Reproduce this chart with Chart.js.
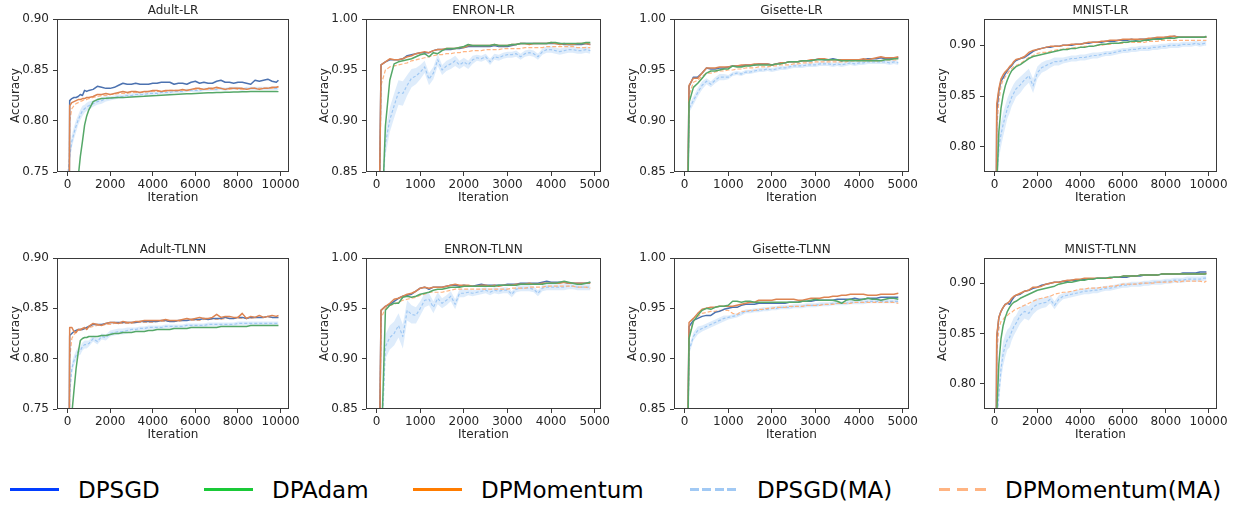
<!DOCTYPE html>
<html>
<head>
<meta charset="utf-8">
<script src="https://cdn.jsdelivr.net/npm/chart.js@4.4.1/dist/chart.umd.min.js"></script>
<style>
  html, body { margin:0; padding:0; background:#fff; }
  #wrap { position:relative; width:1237px; height:508px; overflow:hidden; background:#fff; }
  canvas { position:absolute; }
  .lg-line { position:absolute; height:3px; }
  .lg-text { position:absolute; font-family:"DejaVu Sans", sans-serif; font-size:23px; line-height:28px; color:#000; white-space:nowrap; }
</style>
</head>
<body>
<div id="wrap"></div>
<script>
// ---------------- DATA ----------------
const ITER_10K = [0,100,200,300,400,500,600,700,800,900,
1000,1200,1400,1600,1800,2000,2200,2400,2600,2800,
3000,3200,3400,3600,3800,4000,4200,4400,4600,4800,
5000,5200,5400,5600,5800,6000,6200,6400,6600,6800,
7000,7200,7400,7600,7800,8000,8200,8400,8600,8800,
9000,9200,9400,9600,9800,9900];
const ITER_5K = [0,100,200,300,400,500,600,700,800,900,
1000,1100,1200,1300,1400,1500,1600,1700,1800,1900,
2000,2100,2200,2300,2400,2500,2600,2700,2800,2900,
3000,3100,3200,3300,3400,3500,3600,3700,3800,3900,
4000,4100,4200,4300,4400,4500,4600,4700,4800,4900];

const X_TICKS_10K = [0,2000,4000,6000,8000,10000];
const X_TICKS_5K = [0,1000,2000,3000,4000,5000];
const Y_TICKS_ADULT = [0.75,0.80,0.85,0.90];
const Y_TICKS_HIGH = [0.85,0.90,0.95,1.00];
const Y_TICKS_MNIST = [0.80,0.85,0.90];

const SERIES_NAMES = ['DPSGD','DPAdam','DPMomentum','DPSGD(MA)','DPMomentum(MA)'];
const PANEL_TITLES = ['Adult-LR','ENRON-LR','Gisette-LR','MNIST-LR','Adult-TLNN','ENRON-TLNN','Gisette-TLNN','MNIST-TLNN'];

// Adult-LR
const adultLR_sgd = [0.30,0.820,0.822,0.823,0.823,0.824,0.826,0.825,0.830,0.829,
0.830,0.831,0.834,0.833,0.832,0.832,0.833,0.835,0.837,0.836,
0.836,0.837,0.836,0.836,0.836,0.837,0.837,0.838,0.838,0.838,
0.836,0.837,0.837,0.836,0.838,0.839,0.837,0.838,0.837,0.837,
0.839,0.840,0.838,0.838,0.837,0.838,0.838,0.837,0.836,0.840,
0.839,0.840,0.841,0.839,0.838,0.840];
const adultLR_adam = [0.30,0.40,0.50,0.58,0.66,0.745,0.765,0.780,0.796,0.805,
0.811,0.819,0.821,0.822,0.8222,0.8225,0.8228,0.823,0.823,0.8232,
0.8235,0.8238,0.824,0.8242,0.8245,0.8248,0.825,0.8253,0.8256,0.8258,
0.826,0.8262,0.8264,0.8266,0.8268,0.827,0.8272,0.8274,0.8276,0.8278,
0.828,0.828,0.8282,0.8283,0.8284,0.8285,0.8286,0.8287,0.8288,0.8288,
0.8289,0.829,0.829,0.8289,0.829,0.8288];
const adultLR_mom = [0.30,0.815,0.818,0.819,0.820,0.821,0.821,0.822,0.822,0.823,
0.823,0.824,0.826,0.826,0.827,0.826,0.827,0.828,0.829,0.828,
0.829,0.829,0.828,0.829,0.829,0.830,0.830,0.829,0.830,0.830,
0.830,0.830,0.831,0.830,0.831,0.832,0.832,0.831,0.832,0.832,
0.833,0.832,0.831,0.832,0.832,0.832,0.832,0.831,0.832,0.832,
0.831,0.832,0.832,0.833,0.833,0.834];
const adultLR_sgdMA = [0.745,0.765,0.780,0.788,0.795,0.801,0.806,0.810,0.812,0.814,
0.815,0.817,0.819,0.820,0.822,0.822,0.823,0.824,0.824,0.825,
0.825,0.826,0.826,0.826,0.827,0.827,0.827,0.828,0.828,0.828,
0.829,0.829,0.829,0.830,0.830,0.830,0.830,0.831,0.831,0.831,
0.831,0.832,0.831,0.832,0.832,0.832,0.831,0.832,0.832,0.832,
0.832,0.832,0.832,0.832,0.832,0.832];
const adultLR_momMA = [0.50,0.800,0.812,0.815,0.817,0.818,0.819,0.820,0.821,0.821,
0.822,0.823,0.824,0.825,0.825,0.826,0.826,0.827,0.827,0.827,
0.828,0.828,0.828,0.828,0.829,0.829,0.829,0.829,0.829,0.830,
0.830,0.830,0.830,0.830,0.831,0.831,0.831,0.831,0.831,0.831,
0.832,0.832,0.831,0.831,0.832,0.831,0.831,0.831,0.832,0.832,
0.832,0.832,0.832,0.832,0.833,0.833];
const adultLR_band = [0.000,0.006,0.006,0.006,0.006,0.005,0.005,0.005,0.004,0.004,
0.004,0.003,0.003,0.003,0.003,0.002,0.002,0.002,0.002,0.002,
0.002,0.002,0.002,0.002,0.002,0.002,0.0015,0.0015,0.0015,0.0015,
0.0015,0.0015,0.0015,0.0015,0.0015,0.0015,0.0015,0.0015,0.0015,0.0015,
0.0015,0.0015,0.0015,0.0015,0.0015,0.0015,0.0015,0.0015,0.0015,0.0015,
0.0015,0.0015,0.0015,0.0015,0.0015,0.0015];

// ENRON-LR
const enronLR_sgd = [0.60,0.955,0.958,0.960,0.960,0.960,0.961,0.964,0.965,0.966,
0.967,0.967,0.967,0.969,0.970,0.970,0.970,0.970,0.971,0.971,
0.972,0.973,0.973,0.973,0.973,0.973,0.973,0.974,0.973,0.973,
0.973,0.974,0.975,0.976,0.976,0.976,0.976,0.976,0.976,0.976,
0.976,0.976,0.976,0.975,0.975,0.975,0.975,0.975,0.976,0.975];
const enronLR_adam = [0.55,0.78,0.895,0.940,0.956,0.958,0.959,0.960,0.961,0.963,
0.965,0.966,0.963,0.967,0.966,0.969,0.971,0.971,0.971,0.972,
0.973,0.975,0.974,0.974,0.974,0.974,0.974,0.975,0.974,0.974,
0.974,0.975,0.975,0.976,0.976,0.976,0.976,0.976,0.976,0.976,
0.977,0.977,0.976,0.976,0.976,0.976,0.976,0.976,0.977,0.977];
const enronLR_mom = [0.60,0.955,0.958,0.961,0.960,0.960,0.961,0.963,0.964,0.966,
0.967,0.968,0.967,0.969,0.970,0.970,0.971,0.971,0.971,0.972,
0.972,0.974,0.974,0.974,0.974,0.974,0.974,0.975,0.974,0.974,
0.974,0.975,0.975,0.976,0.976,0.975,0.976,0.976,0.976,0.976,
0.977,0.976,0.975,0.976,0.975,0.975,0.976,0.976,0.976,0.975];
const enronLR_sgdMA = [0.60,0.80,0.878,0.901,0.915,0.928,0.927,0.935,0.942,0.944,
0.948,0.953,0.941,0.947,0.960,0.950,0.954,0.956,0.959,0.955,
0.958,0.955,0.960,0.962,0.961,0.963,0.958,0.963,0.962,0.964,
0.965,0.965,0.966,0.963,0.966,0.967,0.966,0.963,0.968,0.970,
0.970,0.969,0.968,0.969,0.970,0.970,0.969,0.969,0.970,0.969];
const enronLR_momMA = [0.60,0.935,0.950,0.953,0.954,0.955,0.956,0.957,0.959,0.960,
0.961,0.962,0.963,0.964,0.965,0.965,0.966,0.966,0.967,0.967,
0.968,0.968,0.969,0.969,0.969,0.970,0.970,0.970,0.970,0.971,
0.971,0.971,0.971,0.971,0.972,0.972,0.972,0.972,0.972,0.973,
0.973,0.973,0.973,0.973,0.973,0.973,0.972,0.972,0.972,0.972];
const enronLR_band = [0.000,0.010,0.012,0.012,0.012,0.012,0.012,0.010,0.009,0.008,
0.007,0.006,0.006,0.006,0.006,0.005,0.005,0.005,0.005,0.004,
0.004,0.004,0.004,0.003,0.003,0.003,0.003,0.003,0.003,0.003,
0.003,0.003,0.003,0.003,0.003,0.003,0.003,0.003,0.003,0.003,
0.003,0.003,0.003,0.003,0.003,0.003,0.003,0.003,0.003,0.003];

// Gisette-LR
const gisetteLR_sgd = [0.55,0.934,0.943,0.943,0.947,0.952,0.951,0.951,0.952,0.952,
0.953,0.954,0.954,0.954,0.955,0.955,0.955,0.956,0.956,0.956,
0.955,0.956,0.957,0.957,0.958,0.958,0.958,0.959,0.959,0.959,
0.960,0.961,0.960,0.960,0.961,0.960,0.959,0.960,0.960,0.960,
0.960,0.960,0.961,0.961,0.961,0.962,0.961,0.961,0.962,0.962];
const gisetteLR_adam = [0.55,0.918,0.933,0.937,0.942,0.947,0.949,0.949,0.950,0.951,
0.951,0.954,0.953,0.953,0.954,0.954,0.955,0.955,0.955,0.955,
0.955,0.956,0.956,0.957,0.958,0.958,0.958,0.959,0.959,0.959,
0.960,0.960,0.960,0.960,0.960,0.960,0.959,0.959,0.959,0.959,
0.959,0.959,0.959,0.959,0.959,0.959,0.960,0.960,0.961,0.961];
const gisetteLR_mom = [0.55,0.935,0.942,0.942,0.947,0.952,0.952,0.952,0.953,0.953,
0.953,0.954,0.954,0.955,0.955,0.955,0.956,0.956,0.956,0.956,
0.955,0.956,0.957,0.957,0.958,0.958,0.958,0.959,0.959,0.960,
0.960,0.961,0.961,0.960,0.960,0.960,0.960,0.960,0.960,0.960,
0.960,0.961,0.960,0.961,0.962,0.963,0.962,0.962,0.962,0.963];
const gisetteLR_sgdMA = [0.55,0.912,0.920,0.928,0.935,0.939,0.936,0.940,0.943,0.943,
0.943,0.946,0.947,0.946,0.948,0.948,0.949,0.950,0.950,0.951,
0.950,0.951,0.952,0.952,0.953,0.954,0.954,0.954,0.955,0.955,
0.955,0.956,0.956,0.956,0.955,0.956,0.955,0.956,0.957,0.956,
0.957,0.957,0.958,0.958,0.958,0.958,0.958,0.957,0.958,0.957];
const gisetteLR_momMA = [0.55,0.925,0.938,0.940,0.944,0.947,0.947,0.948,0.949,0.949,
0.950,0.950,0.951,0.951,0.952,0.952,0.952,0.953,0.953,0.953,
0.954,0.954,0.955,0.955,0.955,0.956,0.956,0.957,0.957,0.957,
0.958,0.958,0.958,0.958,0.958,0.958,0.958,0.958,0.959,0.959,
0.959,0.959,0.959,0.959,0.959,0.959,0.960,0.960,0.960,0.960];
const gisetteLR_band = [0.000,0.004,0.004,0.004,0.004,0.003,0.003,0.003,0.003,0.003,
0.002,0.002,0.002,0.002,0.002,0.002,0.002,0.002,0.002,0.002,
0.002,0.002,0.002,0.002,0.002,0.002,0.002,0.002,0.002,0.002,
0.002,0.002,0.002,0.002,0.002,0.002,0.002,0.002,0.002,0.002,
0.002,0.002,0.002,0.002,0.002,0.002,0.002,0.002,0.002,0.002];

// MNIST-LR
const mnistLR_sgd = [0.40,0.835,0.855,0.865,0.868,0.872,0.875,0.878,0.880,0.883,
0.885,0.887,0.888,0.891,0.894,0.896,0.897,0.898,0.898,0.899,
0.899,0.900,0.900,0.900,0.901,0.901,0.902,0.902,0.903,0.903,
0.903,0.904,0.904,0.904,0.905,0.905,0.905,0.906,0.905,0.906,
0.906,0.906,0.907,0.907,0.907,0.908,0.908,0.909,0.908,0.908,
0.908,0.908,0.908,0.908,0.908,0.908];
const mnistLR_adam = [0.40,0.760,0.815,0.838,0.851,0.860,0.866,0.871,0.875,0.877,
0.879,0.881,0.884,0.887,0.889,0.890,0.891,0.892,0.893,0.894,
0.895,0.896,0.896,0.897,0.897,0.898,0.898,0.899,0.899,0.900,
0.901,0.901,0.902,0.902,0.902,0.903,0.903,0.904,0.904,0.904,
0.905,0.905,0.906,0.906,0.906,0.907,0.907,0.907,0.908,0.908,
0.908,0.908,0.908,0.908,0.908,0.909];
const mnistLR_mom = [0.40,0.842,0.857,0.867,0.871,0.874,0.876,0.879,0.881,0.884,
0.886,0.887,0.889,0.893,0.895,0.896,0.897,0.898,0.899,0.899,
0.899,0.900,0.900,0.901,0.901,0.901,0.902,0.903,0.903,0.903,
0.904,0.904,0.905,0.905,0.905,0.906,0.906,0.906,0.906,0.906,
0.906,0.907,0.907,0.908,0.908,0.908,0.909,0.909,0.908,0.908,
0.908,0.908,0.908,0.908,0.908,0.908];
const mnistLR_sgdMA = [0.40,0.770,0.800,0.812,0.822,0.830,0.838,0.843,0.849,0.853,
0.857,0.861,0.866,0.870,0.860,0.873,0.878,0.880,0.882,0.884,
0.884,0.885,0.886,0.887,0.887,0.888,0.888,0.889,0.890,0.890,
0.891,0.892,0.892,0.893,0.894,0.895,0.895,0.896,0.896,0.897,
0.897,0.897,0.898,0.898,0.899,0.899,0.900,0.900,0.900,0.901,
0.901,0.901,0.902,0.901,0.902,0.902];
const mnistLR_momMA = [0.40,0.820,0.845,0.860,0.866,0.869,0.872,0.875,0.877,0.879,
0.880,0.882,0.885,0.888,0.890,0.892,0.893,0.893,0.894,0.895,
0.896,0.896,0.897,0.897,0.898,0.898,0.899,0.899,0.899,0.900,
0.900,0.901,0.901,0.902,0.902,0.902,0.903,0.903,0.903,0.903,
0.903,0.904,0.904,0.904,0.905,0.905,0.905,0.905,0.905,0.905,
0.905,0.905,0.905,0.905,0.905,0.905];
const mnistLR_band = [0.000,0.012,0.012,0.012,0.012,0.011,0.010,0.010,0.009,0.009,
0.008,0.008,0.007,0.007,0.007,0.006,0.005,0.005,0.004,0.004,
0.004,0.003,0.003,0.003,0.003,0.003,0.003,0.003,0.003,0.003,
0.0025,0.0025,0.0025,0.0025,0.0025,0.0025,0.0025,0.0025,0.0025,0.0025,
0.0025,0.0025,0.0025,0.0025,0.0025,0.0025,0.0025,0.0025,0.0025,0.0025,
0.0025,0.0025,0.0025,0.0025,0.0025,0.0025];

// Adult-TLNN
const adultTLNN_sgd = [0.30,0.823,0.825,0.827,0.828,0.829,0.829,0.829,0.830,0.831,
0.832,0.834,0.834,0.834,0.835,0.836,0.836,0.836,0.836,0.836,
0.836,0.836,0.837,0.837,0.837,0.837,0.837,0.838,0.838,0.837,
0.837,0.838,0.838,0.838,0.839,0.839,0.839,0.840,0.839,0.840,
0.840,0.840,0.841,0.840,0.840,0.841,0.841,0.840,0.841,0.841,
0.841,0.841,0.842,0.841,0.841,0.841];
const adultTLNN_adam = [0.30,0.60,0.745,0.768,0.790,0.806,0.818,0.820,0.821,0.821,
0.822,0.822,0.822,0.823,0.823,0.824,0.825,0.825,0.826,0.826,
0.826,0.827,0.827,0.827,0.828,0.828,0.829,0.829,0.829,0.829,
0.830,0.830,0.830,0.830,0.831,0.831,0.831,0.831,0.831,0.831,
0.831,0.832,0.832,0.832,0.832,0.832,0.832,0.832,0.833,0.833,
0.833,0.833,0.833,0.833,0.833,0.833];
const adultTLNN_mom = [0.30,0.831,0.831,0.827,0.826,0.829,0.829,0.830,0.831,0.829,
0.832,0.835,0.834,0.833,0.835,0.836,0.836,0.835,0.837,0.836,
0.836,0.837,0.837,0.838,0.838,0.838,0.838,0.838,0.839,0.838,
0.838,0.838,0.839,0.840,0.839,0.840,0.841,0.840,0.840,0.841,
0.844,0.841,0.842,0.842,0.841,0.841,0.845,0.840,0.842,0.841,
0.843,0.841,0.842,0.843,0.842,0.843];
const adultTLNN_sgdMA = [0.30,0.765,0.790,0.798,0.803,0.807,0.808,0.812,0.814,0.814,
0.815,0.820,0.817,0.822,0.821,0.825,0.826,0.827,0.827,0.828,
0.829,0.829,0.830,0.830,0.831,0.831,0.831,0.831,0.832,0.832,
0.832,0.832,0.832,0.833,0.833,0.833,0.833,0.833,0.834,0.834,
0.834,0.834,0.834,0.834,0.834,0.835,0.835,0.835,0.835,0.835,
0.835,0.835,0.835,0.835,0.835,0.835];
const adultTLNN_momMA = [0.30,0.800,0.820,0.824,0.826,0.828,0.828,0.829,0.830,0.830,
0.831,0.832,0.833,0.833,0.834,0.834,0.835,0.835,0.835,0.835,
0.835,0.836,0.836,0.836,0.836,0.836,0.837,0.837,0.837,0.837,
0.837,0.837,0.838,0.838,0.838,0.838,0.838,0.839,0.839,0.839,
0.839,0.839,0.840,0.840,0.840,0.840,0.840,0.840,0.840,0.841,
0.841,0.841,0.841,0.841,0.841,0.841];
const adultTLNN_band = [0.000,0.008,0.006,0.005,0.005,0.004,0.004,0.004,0.004,0.004,
0.003,0.003,0.003,0.003,0.003,0.003,0.003,0.003,0.003,0.003,
0.002,0.002,0.002,0.002,0.002,0.002,0.002,0.002,0.002,0.002,
0.002,0.002,0.002,0.002,0.002,0.002,0.002,0.002,0.002,0.002,
0.002,0.002,0.002,0.002,0.002,0.002,0.002,0.002,0.002,0.002,
0.002,0.002,0.002,0.002,0.002,0.002];

// ENRON-TLNN
const enronTLNN_sgd = [0.55,0.948,0.952,0.954,0.957,0.960,0.962,0.963,0.964,0.967,
0.970,0.971,0.969,0.971,0.971,0.971,0.972,0.973,0.973,0.972,
0.973,0.972,0.972,0.973,0.974,0.973,0.973,0.973,0.973,0.973,
0.974,0.974,0.974,0.975,0.975,0.975,0.975,0.975,0.976,0.977,
0.976,0.976,0.976,0.976,0.975,0.975,0.975,0.975,0.975,0.976];
const enronTLNN_adam = [0.55,0.80,0.948,0.953,0.955,0.955,0.961,0.962,0.961,0.962,
0.964,0.965,0.966,0.968,0.969,0.969,0.970,0.971,0.971,0.971,
0.972,0.972,0.972,0.972,0.972,0.972,0.972,0.972,0.973,0.973,
0.973,0.973,0.973,0.974,0.974,0.974,0.974,0.974,0.974,0.975,
0.975,0.975,0.976,0.977,0.976,0.975,0.974,0.974,0.975,0.976];
const enronTLNN_mom = [0.55,0.948,0.952,0.955,0.959,0.960,0.962,0.964,0.965,0.967,
0.970,0.971,0.970,0.971,0.971,0.971,0.972,0.973,0.974,0.973,
0.973,0.973,0.972,0.972,0.973,0.973,0.972,0.973,0.972,0.973,
0.973,0.973,0.974,0.974,0.974,0.975,0.974,0.974,0.975,0.975,
0.975,0.975,0.975,0.976,0.975,0.975,0.975,0.975,0.975,0.975];
const enronTLNN_sgdMA = [0.55,0.80,0.912,0.921,0.925,0.933,0.922,0.948,0.944,0.943,
0.950,0.958,0.959,0.951,0.960,0.955,0.958,0.962,0.954,0.965,
0.965,0.966,0.965,0.966,0.967,0.968,0.966,0.968,0.967,0.968,
0.968,0.964,0.969,0.970,0.970,0.970,0.969,0.965,0.970,0.971,
0.971,0.971,0.971,0.971,0.972,0.972,0.971,0.971,0.971,0.971];
const enronTLNN_momMA = [0.55,0.940,0.950,0.953,0.954,0.956,0.958,0.959,0.960,0.961,
0.963,0.964,0.966,0.966,0.966,0.966,0.967,0.968,0.969,0.969,
0.969,0.969,0.969,0.969,0.969,0.969,0.969,0.969,0.969,0.969,
0.969,0.970,0.970,0.970,0.970,0.971,0.971,0.971,0.971,0.972,
0.972,0.972,0.972,0.972,0.972,0.972,0.971,0.971,0.971,0.970];
const enronTLNN_band = [0.000,0.010,0.012,0.012,0.012,0.012,0.012,0.010,0.009,0.008,
0.007,0.007,0.006,0.006,0.006,0.005,0.005,0.005,0.005,0.004,
0.004,0.003,0.003,0.003,0.003,0.003,0.003,0.003,0.003,0.003,
0.003,0.003,0.003,0.003,0.003,0.003,0.003,0.003,0.003,0.003,
0.003,0.003,0.003,0.003,0.003,0.003,0.003,0.003,0.003,0.003];

// Gisette-TLNN
const gisetteTLNN_sgd = [0.55,0.932,0.938,0.940,0.942,0.943,0.943,0.946,0.947,0.949,
0.950,0.951,0.951,0.953,0.954,0.954,0.954,0.955,0.955,0.955,
0.955,0.955,0.955,0.955,0.956,0.956,0.956,0.957,0.957,0.957,
0.958,0.958,0.958,0.958,0.958,0.959,0.959,0.959,0.959,0.960,
0.959,0.959,0.960,0.960,0.960,0.961,0.961,0.961,0.961,0.961];
const gisetteTLNN_adam = [0.55,0.920,0.937,0.943,0.948,0.950,0.949,0.951,0.952,0.952,
0.953,0.957,0.957,0.956,0.957,0.957,0.956,0.956,0.956,0.956,
0.956,0.956,0.956,0.956,0.956,0.956,0.956,0.957,0.957,0.958,
0.959,0.958,0.958,0.958,0.958,0.957,0.955,0.958,0.959,0.958,
0.958,0.959,0.960,0.959,0.959,0.958,0.959,0.960,0.960,0.959];
const gisetteTLNN_mom = [0.55,0.936,0.940,0.945,0.949,0.950,0.951,0.951,0.952,0.952,
0.952,0.952,0.953,0.954,0.955,0.956,0.956,0.958,0.958,0.958,
0.958,0.959,0.959,0.959,0.959,0.959,0.958,0.958,0.959,0.960,
0.960,0.960,0.961,0.961,0.962,0.962,0.963,0.963,0.964,0.964,
0.964,0.964,0.963,0.963,0.963,0.964,0.964,0.964,0.964,0.965];
const gisetteTLNN_sgdMA = [0.55,0.908,0.922,0.928,0.930,0.932,0.934,0.936,0.938,0.940,
0.941,0.942,0.943,0.945,0.947,0.947,0.948,0.948,0.949,0.949,
0.950,0.950,0.951,0.951,0.951,0.952,0.952,0.952,0.953,0.953,
0.953,0.954,0.954,0.954,0.955,0.955,0.955,0.955,0.956,0.956,
0.956,0.956,0.957,0.957,0.957,0.957,0.957,0.957,0.957,0.957];
const gisetteTLNN_momMA = [0.55,0.925,0.937,0.942,0.945,0.946,0.947,0.947,0.948,0.948,
0.948,0.945,0.944,0.947,0.947,0.948,0.948,0.949,0.949,0.950,
0.950,0.951,0.951,0.951,0.952,0.952,0.952,0.952,0.953,0.953,
0.953,0.953,0.954,0.954,0.954,0.955,0.955,0.955,0.955,0.956,
0.956,0.956,0.956,0.956,0.956,0.956,0.956,0.956,0.956,0.955];
const gisetteTLNN_band = [0.000,0.004,0.004,0.004,0.003,0.003,0.003,0.003,0.003,0.003,
0.002,0.002,0.002,0.002,0.002,0.002,0.002,0.002,0.002,0.002,
0.002,0.002,0.002,0.002,0.002,0.002,0.002,0.002,0.002,0.002,
0.002,0.002,0.002,0.002,0.002,0.002,0.002,0.002,0.002,0.002,
0.002,0.002,0.002,0.002,0.002,0.002,0.002,0.002,0.002,0.002];

// MNIST-TLNN
const mnistTLNN_sgd = [0.40,0.845,0.866,0.872,0.876,0.879,0.880,0.879,0.883,0.886,
0.888,0.889,0.892,0.893,0.895,0.896,0.898,0.899,0.900,0.901,
0.901,0.902,0.902,0.903,0.903,0.903,0.904,0.904,0.904,0.905,
0.905,0.905,0.905,0.906,0.906,0.906,0.906,0.907,0.907,0.907,
0.908,0.908,0.908,0.908,0.909,0.909,0.909,0.909,0.909,0.910,
0.910,0.910,0.910,0.911,0.911,0.911];
const mnistTLNN_adam = [0.40,0.770,0.820,0.845,0.858,0.866,0.872,0.876,0.879,0.881,
0.882,0.885,0.887,0.889,0.891,0.893,0.894,0.895,0.896,0.897,
0.899,0.900,0.901,0.901,0.902,0.903,0.903,0.904,0.904,0.905,
0.905,0.905,0.906,0.906,0.906,0.907,0.907,0.907,0.907,0.908,
0.908,0.908,0.908,0.908,0.909,0.909,0.909,0.909,0.909,0.909,
0.909,0.909,0.909,0.909,0.909,0.909];
const mnistTLNN_mom = [0.40,0.848,0.866,0.872,0.876,0.879,0.880,0.882,0.885,0.887,
0.888,0.890,0.892,0.893,0.896,0.896,0.897,0.899,0.900,0.901,
0.901,0.902,0.903,0.903,0.904,0.904,0.905,0.905,0.905,0.905,
0.905,0.905,0.905,0.906,0.906,0.907,0.907,0.907,0.907,0.908,
0.908,0.908,0.908,0.908,0.909,0.909,0.909,0.909,0.909,0.909,
0.909,0.909,0.909,0.909,0.909,0.910];
const mnistTLNN_sgdMA = [0.40,0.760,0.790,0.815,0.830,0.838,0.844,0.846,0.852,0.857,
0.860,0.868,0.872,0.870,0.876,0.879,0.880,0.881,0.884,0.878,
0.884,0.887,0.888,0.889,0.890,0.891,0.892,0.892,0.893,0.893,
0.894,0.895,0.895,0.896,0.897,0.898,0.898,0.899,0.899,0.899,
0.900,0.900,0.901,0.901,0.901,0.902,0.902,0.903,0.903,0.903,
0.904,0.904,0.904,0.904,0.905,0.905];
const mnistTLNN_momMA = [0.40,0.830,0.855,0.862,0.864,0.867,0.868,0.870,0.871,0.873,
0.874,0.876,0.878,0.880,0.882,0.884,0.885,0.886,0.887,0.889,
0.890,0.891,0.891,0.892,0.893,0.894,0.894,0.895,0.895,0.895,
0.896,0.896,0.897,0.897,0.898,0.899,0.899,0.899,0.899,0.900,
0.900,0.900,0.900,0.901,0.901,0.901,0.901,0.902,0.901,0.902,
0.902,0.902,0.902,0.902,0.901,0.902];
const mnistTLNN_band = [0.000,0.012,0.012,0.012,0.012,0.011,0.010,0.010,0.009,0.009,
0.008,0.008,0.007,0.007,0.007,0.006,0.005,0.005,0.004,0.004,
0.004,0.003,0.003,0.003,0.003,0.003,0.003,0.003,0.003,0.003,
0.0025,0.0025,0.0025,0.0025,0.0025,0.0025,0.0025,0.0025,0.0025,0.0025,
0.0025,0.0025,0.0025,0.0025,0.0025,0.0025,0.0025,0.0025,0.0025,0.0025,
0.0025,0.0025,0.0025,0.0025,0.0025,0.0025];

// ---------------- STYLE / LAYOUT ----------------
const LINE_COLORS = { sgd:'#4c72b0', adam:'#55a868', mom:'#dd8452', sgdMA:'#a1c9f4', momMA:'#ffb482' };
const LEGEND_COLORS = ['#023eff','#1ac938','#ff7c00','#a1c9f4','#ffb482'];
const FONT = '"DejaVu Sans", sans-serif';
const TEXT_COLOR = '#262626';
const COLS = [[57,289],[366,601],[674,909],[984,1217]];
const ROWS = [[19,172],[258,409]];

const panels = [
  {sgd:adultLR_sgd, adam:adultLR_adam, mom:adultLR_mom, sgdMA:adultLR_sgdMA, momMA:adultLR_momMA, band:adultLR_band, iter:ITER_10K, xt:X_TICKS_10K, yt:Y_TICKS_ADULT, xr:[-495,10395], yr:[0.75,0.90]},
  {sgd:enronLR_sgd, adam:enronLR_adam, mom:enronLR_mom, sgdMA:enronLR_sgdMA, momMA:enronLR_momMA, band:enronLR_band, iter:ITER_5K, xt:X_TICKS_5K, yt:Y_TICKS_HIGH, xr:[-245,5145], yr:[0.85,1.00]},
  {sgd:gisetteLR_sgd, adam:gisetteLR_adam, mom:gisetteLR_mom, sgdMA:gisetteLR_sgdMA, momMA:gisetteLR_momMA, band:gisetteLR_band, iter:ITER_5K, xt:X_TICKS_5K, yt:Y_TICKS_HIGH, xr:[-245,5145], yr:[0.85,1.00]},
  {sgd:mnistLR_sgd, adam:mnistLR_adam, mom:mnistLR_mom, sgdMA:mnistLR_sgdMA, momMA:mnistLR_momMA, band:mnistLR_band, iter:ITER_10K, xt:X_TICKS_10K, yt:Y_TICKS_MNIST, xr:[-495,10395], yr:[0.775,0.926]},
  {sgd:adultTLNN_sgd, adam:adultTLNN_adam, mom:adultTLNN_mom, sgdMA:adultTLNN_sgdMA, momMA:adultTLNN_momMA, band:adultTLNN_band, iter:ITER_10K, xt:X_TICKS_10K, yt:Y_TICKS_ADULT, xr:[-495,10395], yr:[0.75,0.90]},
  {sgd:enronTLNN_sgd, adam:enronTLNN_adam, mom:enronTLNN_mom, sgdMA:enronTLNN_sgdMA, momMA:enronTLNN_momMA, band:enronTLNN_band, iter:ITER_5K, xt:X_TICKS_5K, yt:Y_TICKS_HIGH, xr:[-245,5145], yr:[0.85,1.00]},
  {sgd:gisetteTLNN_sgd, adam:gisetteTLNN_adam, mom:gisetteTLNN_mom, sgdMA:gisetteTLNN_sgdMA, momMA:gisetteTLNN_momMA, band:gisetteTLNN_band, iter:ITER_5K, xt:X_TICKS_5K, yt:Y_TICKS_HIGH, xr:[-245,5145], yr:[0.85,1.00]},
  {sgd:mnistTLNN_sgd, adam:mnistTLNN_adam, mom:mnistTLNN_mom, sgdMA:mnistTLNN_sgdMA, momMA:mnistTLNN_momMA, band:mnistTLNN_band, iter:ITER_10K, xt:X_TICKS_10K, yt:Y_TICKS_MNIST, xr:[-495,10395], yr:[0.775,0.925]}
];

const panelDecor = {
  id: 'panelDecor',
  afterDraw(chart, args, opts) {
    const {ctx, chartArea:{left, top, right, bottom}} = chart;
    ctx.save();
    ctx.strokeStyle = '#3a3a3a';
    ctx.lineWidth = 1;
    ctx.strokeRect(left + 0.5, top + 0.5, right - left - 1, bottom - top - 1);
    ctx.fillStyle = TEXT_COLOR;
    ctx.font = '12px ' + FONT;
    ctx.textAlign = 'center';
    ctx.textBaseline = 'middle';
    ctx.fillText(opts.title, (left + right) / 2, top - 8);
    ctx.restore();
  }
};

const wrap = document.getElementById('wrap');
const Y_AXIS_W = 57, PAD_TOP = 20, PAD_RIGHT = 28, X_AXIS_H = 33;

function pts(iter, vals) { return iter.map((x, i) => ({x: x, y: vals[i]})); }

panels.forEach((p, idx) => {
  const [L, R] = COLS[idx % 4];
  const [T, B] = ROWS[Math.floor(idx / 4)];
  const cv = document.createElement('canvas');
  const w = (R - L) + Y_AXIS_W + PAD_RIGHT;
  const h = (B - T) + PAD_TOP + X_AXIS_H;
  cv.width = w; cv.height = h;
  cv.style.left = (L - Y_AXIS_W) + 'px';
  cv.style.top = (T - PAD_TOP) + 'px';
  cv.style.width = w + 'px'; cv.style.height = h + 'px';
  wrap.appendChild(cv);

  const upper = p.sgdMA.map((v, i) => v + p.band[i]);
  const lower = p.sgdMA.map((v, i) => v - p.band[i]);
  const base = {pointRadius:0, tension:0, fill:false, borderCapStyle:'butt', borderJoinStyle:'round'};

  const datasets = [
    Object.assign({}, base, {label:SERIES_NAMES[1], data:pts(p.iter, p.adam), borderColor:LINE_COLORS.adam, borderWidth:1.5}),
    Object.assign({}, base, {label:SERIES_NAMES[2], data:pts(p.iter, p.mom), borderColor:LINE_COLORS.mom, borderWidth:1.5}),
    Object.assign({}, base, {label:SERIES_NAMES[0], data:pts(p.iter, p.sgd), borderColor:LINE_COLORS.sgd, borderWidth:1.5}),
    Object.assign({}, base, {label:SERIES_NAMES[4], data:pts(p.iter, p.momMA), borderColor:LINE_COLORS.momMA, borderWidth:1.2, borderDash:[4,2]}),
    Object.assign({}, base, {label:SERIES_NAMES[3], data:pts(p.iter, p.sgdMA), borderColor:LINE_COLORS.sgdMA, borderWidth:1.2, borderDash:[3,2]}),
    Object.assign({}, base, {label:'band-upper', data:pts(p.iter, upper), borderWidth:0, borderColor:'rgba(0,0,0,0)', backgroundColor:'rgba(161,201,244,0.35)', fill:'+1'}),
    Object.assign({}, base, {label:'band-lower', data:pts(p.iter, lower), borderWidth:0, borderColor:'rgba(0,0,0,0)'})
  ];

  new Chart(cv, {
    type: 'line',
    data: { datasets },
    plugins: [panelDecor],
    options: {
      responsive: false,
      animation: false,
      devicePixelRatio: 1,
      layout: { padding: {top: PAD_TOP, right: PAD_RIGHT, left: 0, bottom: 0} },
      plugins: {
        legend: {display:false},
        tooltip: {enabled:false},
        panelDecor: {title: PANEL_TITLES[idx]}
      },
      scales: {
        x: {
          type: 'linear',
          min: p.xr[0], max: p.xr[1],
          afterBuildTicks: s => { s.ticks = p.xt.map(v => ({value: v})); },
          afterFit: s => { s.height = X_AXIS_H; },
          ticks: { autoSkip:false, maxRotation:0, padding:2, color:TEXT_COLOR, font:{family:FONT, size:12}, callback: v => String(v) },
          grid: { drawOnChartArea:false, drawTicks:true, tickLength:4, tickColor:'#3a3a3a', tickWidth:1 },
          border: { display:false },
          title: { display:true, text:'Iteration', color:TEXT_COLOR, font:{family:FONT, size:12}, padding:{top:0, bottom:0} }
        },
        y: {
          type: 'linear',
          min: p.yr[0], max: p.yr[1],
          afterBuildTicks: s => { s.ticks = p.yt.map(v => ({value: v})); },
          afterFit: s => { s.width = Y_AXIS_W; },
          ticks: { autoSkip:false, padding:4, color:TEXT_COLOR, font:{family:FONT, size:12}, callback: v => Number(v).toFixed(2) },
          grid: { drawOnChartArea:false, drawTicks:true, tickLength:4, tickColor:'#3a3a3a', tickWidth:1 },
          border: { display:false },
          title: { display:true, text:'Accuracy', color:TEXT_COLOR, font:{family:FONT, size:12}, padding:{top:9, bottom:0} }
        }
      }
    }
  });
});

// ---------------- LEGEND ----------------
const LEGEND_POS = [[10,49,78],[204,49,272],[413,49,481],[690,48,757],[939,47,1005]];
SERIES_NAMES.forEach((name, i) => {
  const [lx, lw, tx] = LEGEND_POS[i];
  const line = document.createElement('div');
  line.className = 'lg-line';
  line.style.left = lx + 'px';
  line.style.top = '488px';
  line.style.width = lw + 'px';
  if (i === 3) {
    line.style.background = 'repeating-linear-gradient(to right, ' + LEGEND_COLORS[i] + ' 0 9px, transparent 9px 12.5px)';
  } else if (i === 4) {
    line.style.background = 'repeating-linear-gradient(to right, ' + LEGEND_COLORS[i] + ' 0 11px, transparent 11px 18px)';
  } else {
    line.style.background = LEGEND_COLORS[i];
  }
  wrap.appendChild(line);
  const txt = document.createElement('div');
  txt.className = 'lg-text';
  txt.style.left = tx + 'px';
  txt.style.top = '476px';
  txt.textContent = name;
  wrap.appendChild(txt);
});
</script>
</body>
</html>
